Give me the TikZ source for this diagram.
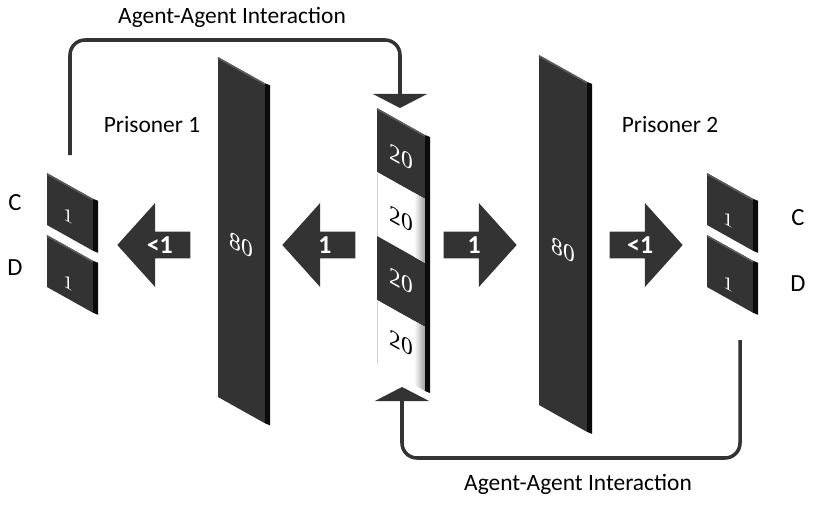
\documentclass[tikz,border=0pt]{standalone}
\usepackage{fontspec}
\setmainfont{Carlito}
\newfontfamily\panelfont{Liberation Serif}
\usetikzlibrary{arrows.meta}
\usetikzlibrary{shapes.arrows}
\usetikzlibrary{positioning}

\definecolor{slabgray}{HTML}{333333}
\definecolor{slabside}{HTML}{0B0B0B}
\definecolor{slabedge}{HTML}{5E5E5E}

% slab: x, y, width, height, fill
\newcommand{\slab}[5]{%
  \fill[#5] (#1,#2) -- ({#1+#3},{#2+0.56*#3}) -- ({#1+#3},{#2+0.56*#3+#4}) -- (#1,{#2+#4}) -- cycle;
  \fill[slabside] ({#1+#3},{#2+0.56*#3}) -- ({#1+#3+5},{#2+0.56*#3+2}) -- ({#1+#3+5},{#2+0.56*#3+#4+2}) -- ({#1+#3},{#2+0.56*#3+#4}) -- cycle;
  \draw[slabedge, line width=1.2pt] (#1,{#2+1}) -- ({#1+#3},{#2+0.56*#3+1});
}

\tikzset{
  loopline/.style={draw=slabgray, line width=3pt, rounded corners=0.45cm, -{Triangle[width=46pt,length=12pt]}},
  blockarrow/.style={single arrow, fill=slabgray, text=white, font=\fontsize{22}{26}\selectfont\bfseries,
    minimum width=2.52cm, minimum height=2.19cm, single arrow head extend=0.63cm,
    single arrow tip angle=96, inner sep=1pt},
  txt/.style={font=\fontsize{20}{24}\selectfont, inner sep=0pt},
  cdtxt/.style={font=\fontsize{21}{25}\selectfont, inner sep=0pt},
  num/.style={text=white, font=\panelfont\fontsize{20}{24}\selectfont, yslant=-0.56, inner sep=0pt},
  smallnum/.style={num, font=\panelfont\fontsize{16}{19}\selectfont}
}

\begin{document}
\begin{tikzpicture}[x=0.03cm, y=-0.03cm]
    \useasboundingbox (0,0) rectangle (814,505);

    % panels 80
    \slab{218}{57}{47}{340}{slabgray}
    \slab{539}{55}{48}{350}{slabgray}
    \node[num] (wall1) at (241,245) {80};
    \node[num] (wall2) at (563,250) {80};

    % strip 20
    \foreach \k/\fc/\tc in {0/slabgray/white, 1/white/black, 2/slabgray/white, 3/white/black} {
        \fill[\fc] (377,{108+64*\k}) -- (425,{135+64*\k}) -- (425,{199+64*\k}) -- (377,{172+64*\k}) -- cycle;
        \node[num, text=\tc] (s\k) at (401,{157+62*\k}) {20};
    }
    \foreach \k in {1, 3} {
        \shade[left color=white, right color=gray!75] (414,{108+64*\k+0.56*37}) -- (425,{135+64*\k}) -- (425,{199+64*\k}) -- (414,{172+64*\k+0.56*37}) -- cycle;
        \draw[gray!35, line width=0.6pt] (377,{108+64*\k}) -- (377,{172+64*\k});
    }
    \fill[slabside] (425,135) -- (430,137) -- (430,393) -- (425,391) -- cycle;
    \draw[slabedge, line width=1.2pt] (377,109) -- (425,136);

    % choice boxes
    \foreach \y/\n in {173/1, 235/2} {
        \slab{47}{\y}{46}{52}{slabgray}
        \slab{707}{\y}{46}{52}{slabgray}
    }
    \node[smallnum] (c1) at (68,216) {1};
    \node[smallnum] (d1) at (68,283) {1};
    \node[smallnum] (c2) at (728,220) {1};
    \node[smallnum] (d2) at (728,284) {1};

    \node[cdtxt] (lc) at (15,203) {C};
    \node[cdtxt] (ld) at (15,268) {D};
    \node[cdtxt] (rc) at (798,218) {C};
    \node[cdtxt] (rd) at (798,284) {D};

    % block arrows
    \node[blockarrow, shape border rotate=180, anchor=tip] (a1) at (117,245) {<1};
    \node[blockarrow, shape border rotate=180, anchor=tip] (a2) at (282,245) {1};
    \node[blockarrow, anchor=tip] (a3) at (517,245) {1};
    \node[blockarrow, anchor=tip] (a4) at (683,245) {<1};

    % labels
    \node[txt] (p1) at (152,125) {Prisoner 1};
    \node[txt] (p2) at (670,125) {Prisoner 2};
    \node[txt] (top) at (232,17) {Agent-Agent Interaction};
    \node[txt] (bot) at (578,484) {Agent-Agent Interaction};

    % interaction loops
    \coordinate (p1out) at (70,155);
    \coordinate (toprail) at (400,40);
    \coordinate (striptop) at (400,108);
    \coordinate (p2out) at (740,340);
    \coordinate (botrail) at (402,458);
    \coordinate (stripbot) at (402,387);
    \draw[loopline] (p1out) |- (toprail) -- (striptop);
    \draw[loopline] (p2out) |- (botrail) -- (stripbot);

\end{tikzpicture}
\end{document}
